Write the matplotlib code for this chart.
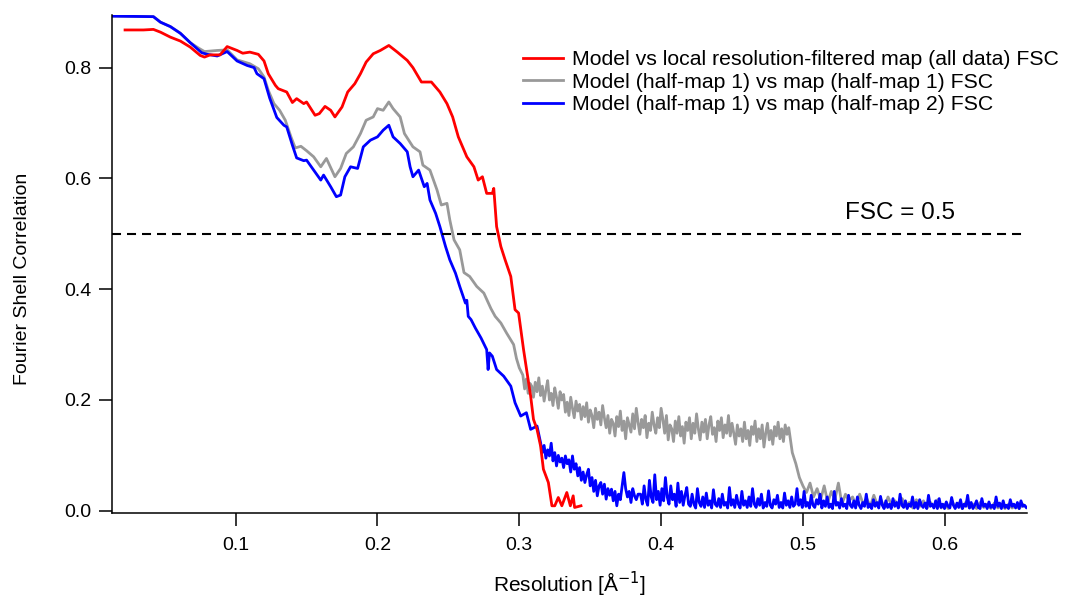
import numpy as np
import matplotlib
matplotlib.use("Agg")
import matplotlib.pyplot as plt

# Model-map FSC curves
red_x = [0.022, 0.035, 0.042, 0.047, 0.054, 0.061, 0.068, 0.075, 0.078, 0.082,
         0.089, 0.094, 0.101, 0.105, 0.110, 0.116, 0.120, 0.123, 0.128, 0.130,
         0.136, 0.140, 0.143, 0.148, 0.150, 0.156, 0.159, 0.163, 0.167, 0.170,
         0.175, 0.179, 0.184, 0.188, 0.192, 0.197, 0.202, 0.208, 0.214, 0.221,
         0.225, 0.231, 0.238, 0.244, 0.249, 0.253, 0.257, 0.263, 0.268, 0.271,
         0.274, 0.277, 0.281, 0.282, 0.284, 0.287, 0.290, 0.294, 0.297, 0.2995,
         0.303, 0.3055, 0.308, 0.310, 0.3125, 0.315, 0.317, 0.3205, 0.323, 0.325,
         0.3275, 0.330, 0.3335, 0.336, 0.338, 0.339, 0.3435]
red_y = [0.868, 0.868, 0.869, 0.864, 0.855, 0.848, 0.837, 0.822, 0.819, 0.823,
         0.823, 0.838, 0.831, 0.826, 0.828, 0.824, 0.812, 0.789, 0.768, 0.762,
         0.756, 0.737, 0.744, 0.735, 0.738, 0.714, 0.717, 0.730, 0.723, 0.711,
         0.729, 0.756, 0.771, 0.789, 0.810, 0.825, 0.831, 0.840, 0.828, 0.813,
         0.800, 0.774, 0.774, 0.756, 0.735, 0.711, 0.675, 0.639, 0.621, 0.597,
         0.603, 0.573, 0.573, 0.582, 0.513, 0.477, 0.453, 0.423, 0.363, 0.357,
         0.291, 0.249, 0.207, 0.165, 0.147, 0.117, 0.075, 0.051, 0.009, 0.009,
         0.024, 0.009, 0.033, 0.009, 0.027, 0.006, 0.009]

gray_x = [0.013, 0.042, 0.047, 0.054, 0.061, 0.068, 0.074, 0.078, 0.087, 0.094,
          0.101, 0.110, 0.116, 0.120, 0.123, 0.127, 0.131, 0.135, 0.139, 0.142,
          0.146, 0.150, 0.155, 0.160, 0.164, 0.170, 0.174, 0.178, 0.183, 0.188,
          0.192, 0.197, 0.200, 0.204, 0.208, 0.211, 0.214, 0.216, 0.219, 0.225,
          0.230, 0.232, 0.237, 0.242, 0.245, 0.249, 0.251, 0.254, 0.258, 0.261,
          0.265, 0.270, 0.275, 0.280, 0.283, 0.287, 0.291, 0.296, 0.298, 0.300]
gray_y = [0.893, 0.892, 0.882, 0.874, 0.862, 0.845, 0.835, 0.829, 0.831, 0.832,
          0.814, 0.807, 0.798, 0.783, 0.759, 0.735, 0.723, 0.705, 0.675, 0.655,
          0.658, 0.650, 0.639, 0.621, 0.636, 0.603, 0.618, 0.645, 0.657, 0.681,
          0.705, 0.711, 0.726, 0.723, 0.738, 0.726, 0.717, 0.711, 0.681, 0.657,
          0.648, 0.624, 0.615, 0.579, 0.552, 0.555, 0.525, 0.489, 0.471, 0.430,
          0.423, 0.405, 0.393, 0.365, 0.351, 0.339, 0.321, 0.300, 0.275, 0.258]
# noisy plateau, one value every 0.00125 from 0.3025 to 0.49
gray_band = [0.245, 0.22, 0.238, 0.212, 0.23, 0.225, 0.205, 0.232, 0.215, 0.24, 0.208,
             0.225, 0.198, 0.218, 0.235, 0.2, 0.212, 0.19, 0.222, 0.205, 0.185, 0.215, 0.2,
             0.21, 0.178, 0.196, 0.172, 0.205, 0.185, 0.168, 0.198, 0.18, 0.192, 0.165, 0.188,
             0.17, 0.195, 0.16, 0.182, 0.172, 0.15, 0.185, 0.165, 0.178, 0.155, 0.19, 0.168,
             0.15, 0.172, 0.14, 0.165, 0.158, 0.135, 0.17, 0.152, 0.18, 0.145, 0.162, 0.13,
             0.168, 0.155, 0.142, 0.175, 0.148, 0.185, 0.16, 0.138, 0.165, 0.15, 0.172, 0.132,
             0.158, 0.145, 0.178, 0.155, 0.14, 0.168, 0.15, 0.185,
             0.165, 0.14, 0.172, 0.128, 0.155, 0.148, 0.125, 0.162, 0.14, 0.17,
             0.135, 0.152, 0.122, 0.16, 0.145, 0.168, 0.13, 0.158, 0.14, 0.175,
             0.148, 0.128, 0.16, 0.142, 0.165, 0.13, 0.155, 0.17, 0.138, 0.15,
             0.125, 0.162, 0.145, 0.168, 0.132, 0.155, 0.14, 0.172, 0.135, 0.158,
             0.14, 0.12, 0.155, 0.135, 0.148, 0.125, 0.16, 0.13, 0.145, 0.118,
             0.152, 0.138, 0.162, 0.125, 0.148, 0.13, 0.155, 0.115, 0.14, 0.158,
             0.128, 0.145, 0.12, 0.152, 0.135, 0.16, 0.13, 0.148, 0.125, 0.155,
             0.138, 0.15]
# drop and tail, 0.4925 to 0.6575
gray_tail = [0.105, 0.085, 0.06, 0.045, 0.033,
             0.05, 0.025, 0.04, 0.02, 0.045, 0.015, 0.035, 0.02, 0.05, 0.012,
             0.03, 0.018, 0.025, 0.01, 0.03, 0.012, 0.022, 0.008, 0.028, 0.01,
             0.02, 0.006, 0.025, 0.01, 0.018, 0.006, 0.022, 0.008, 0.015, 0.005,
             0.02, 0.008, 0.018, 0.005, 0.015, 0.006, 0.02, 0.005, 0.012, 0.004,
             0.018, 0.006, 0.014, 0.004, 0.016, 0.005, 0.012, 0.004, 0.015, 0.006,
             0.012, 0.004, 0.014, 0.005, 0.01, 0.004, 0.012, 0.005, 0.01, 0.004,
             0.012, 0.006]

blue_x = [0.013, 0.042, 0.047, 0.054, 0.061, 0.068, 0.076, 0.080, 0.087, 0.094,
          0.101, 0.108, 0.113, 0.115, 0.120, 0.124, 0.129, 0.134, 0.136, 0.140,
          0.143, 0.148, 0.150, 0.155, 0.160, 0.162, 0.167, 0.171, 0.174, 0.177,
          0.181, 0.186, 0.190, 0.195, 0.200, 0.204, 0.208, 0.211, 0.216, 0.221,
          0.223, 0.225, 0.229, 0.233, 0.235, 0.237, 0.241, 0.244, 0.248, 0.251,
          0.255, 0.258, 0.262, 0.263, 0.264, 0.266, 0.269, 0.273, 0.277, 0.278,
          0.279, 0.281, 0.284, 0.289, 0.294, 0.297, 0.301, 0.305, 0.308, 0.3125]
blue_y = [0.893, 0.892, 0.882, 0.874, 0.862, 0.845, 0.827, 0.824, 0.821, 0.829,
          0.812, 0.804, 0.800, 0.789, 0.780, 0.745, 0.710, 0.696, 0.693, 0.660,
          0.637, 0.632, 0.633, 0.615, 0.597, 0.606, 0.585, 0.567, 0.570, 0.603,
          0.621, 0.618, 0.657, 0.669, 0.675, 0.687, 0.696, 0.675, 0.663, 0.648,
          0.621, 0.603, 0.615, 0.585, 0.591, 0.561, 0.537, 0.513, 0.477, 0.453,
          0.429, 0.405, 0.375, 0.380, 0.351, 0.345, 0.330, 0.312, 0.291, 0.255,
          0.285, 0.279, 0.255, 0.243, 0.225, 0.195, 0.171, 0.177, 0.147, 0.153]
# noisy foot, one value every 0.00125 from 0.315 to 0.38375
blue_mid = [0.123, 0.105, 0.118, 0.095, 0.11, 0.099, 0.122, 0.09, 0.105, 0.081,
            0.1, 0.088, 0.095, 0.078, 0.099, 0.085, 0.092, 0.07, 0.099, 0.075,
            0.085, 0.063, 0.078, 0.055, 0.07, 0.051, 0.065, 0.075, 0.045, 0.06,
            0.035, 0.055, 0.027, 0.045, 0.051, 0.03, 0.048, 0.021, 0.04, 0.028,
            0.039, 0.018, 0.035, 0.009, 0.03, 0.02, 0.045, 0.069, 0.04, 0.025,
            0.035, 0.015, 0.04, 0.027, 0.02, 0.03]
# noisy tail, one value every 0.00125 from 0.3855 to 0.6575
blue_tail = [0.03, 0.012, 0.045, 0.02, 0.01, 0.055, 0.025, 0.015, 0.065, 0.02,
             0.035, 0.01, 0.04, 0.018, 0.06, 0.025, 0.012, 0.045, 0.02, 0.03,
             0.008, 0.05, 0.015, 0.035, 0.01, 0.028, 0.042, 0.012,
             0.008, 0.03, 0.012, 0.005, 0.04, 0.015, 0.008, 0.025, 0.006, 0.032,
             0.01, 0.018, 0.005, 0.038, 0.012, 0.008, 0.022, 0.006, 0.03, 0.01,
             0.015, 0.005, 0.042, 0.01, 0.02, 0.006, 0.028, 0.012, 0.005, 0.035,
             0.01, 0.018, 0.006, 0.025, 0.008, 0.04, 0.012, 0.006, 0.022, 0.01,
             0.03, 0.005, 0.015, 0.008, 0.036, 0.01, 0.005, 0.02, 0.012, 0.028,
             0.006, 0.015, 0.005, 0.032, 0.01, 0.018, 0.006, 0.025, 0.008, 0.012,
             0.04, 0.01, 0.02, 0.006,
             0.035, 0.008, 0.015, 0.005, 0.028, 0.01, 0.006, 0.02, 0.012, 0.03,
             0.005, 0.018, 0.008, 0.025, 0.006, 0.012, 0.004, 0.035, 0.01, 0.015,
             0.005, 0.022, 0.008, 0.012, 0.004, 0.028, 0.01, 0.006, 0.018, 0.005,
             0.025, 0.01, 0.004, 0.015, 0.008, 0.03, 0.006, 0.012, 0.004, 0.02,
             0.008, 0.015, 0.005, 0.026, 0.01, 0.004, 0.018, 0.006, 0.012, 0.004,
             0.022, 0.008, 0.015, 0.005, 0.03, 0.01, 0.006, 0.018, 0.004, 0.012,
             0.008, 0.025, 0.005, 0.015, 0.004, 0.02, 0.01, 0.006, 0.014, 0.004,
             0.028, 0.008, 0.012, 0.005, 0.018, 0.004, 0.022, 0.006, 0.012, 0.004,
             0.016, 0.008, 0.005, 0.024, 0.01, 0.004, 0.014, 0.006, 0.02, 0.004,
             0.012, 0.008, 0.028, 0.005, 0.015, 0.004, 0.01, 0.018, 0.006, 0.004,
             0.022, 0.008, 0.012, 0.004, 0.016, 0.006, 0.01, 0.004, 0.025, 0.008,
             0.014, 0.004, 0.018, 0.006, 0.01, 0.004, 0.02, 0.008, 0.012, 0.005,
             0.015, 0.004, 0.018, 0.008, 0.01, 0.006]

labels = ['Model vs local resolution-filtered map (all data) FSC',
          'Model (half-map 1) vs map (half-map 1) FSC',
          'Model (half-map 1) vs map (half-map 2) FSC']

plt.rcParams['font.family'] = ['Liberation Sans', 'DejaVu Sans']
plt.rcParams['font.size'] = 14
plt.rcParams['lines.scale_dashes'] = False

gx = np.concatenate([gray_x, np.linspace(0.3025, 0.49, len(gray_band)),
                     np.linspace(0.4925, 0.6575, len(gray_tail))])
gy = np.concatenate([gray_y, gray_band, gray_tail])
bx = np.concatenate([blue_x, np.linspace(0.315, 0.38375, len(blue_mid)),
                     np.linspace(0.3855, 0.6575, len(blue_tail))])
by = np.concatenate([blue_y, blue_mid, blue_tail])

fig = plt.figure(figsize=(10.65, 6), dpi=100)
ax = fig.add_axes([112 / 1065, 1 - 513 / 600, 915 / 1065, 498 / 600])

l_gray, = ax.plot(gx, gy, color='#999999', lw=2.0, label=labels[1])
l_blue, = ax.plot(bx, by, color='#0000ff', lw=2.0, label=labels[2])
l_red, = ax.plot(red_x, red_y, color='#ff0000', lw=2.0, label=labels[0])

ax.axhline(0.5, color='black', lw=1.5, dashes=(6.5, 4.3))
ax.text(0.530, 0.537, 'FSC = 0.5', ha='left', va='center', fontsize=17.5)

ax.set_xlim(0.0128, 0.658)
ax.set_ylim(-0.004, 0.895)
ax.set_xticks([0.1, 0.2, 0.3, 0.4, 0.5, 0.6])
ax.set_yticks([0.0, 0.2, 0.4, 0.6, 0.8])
ax.set_yticklabels(['0.0', '0.2', '0.4', '0.6', '0.8'])
ax.tick_params(direction='out', length=9.5, width=1.1, labelsize=14, pad=5)
ax.tick_params(axis='x', pad=8)

for s in ['top', 'right']:
    ax.spines[s].set_visible(False)
for s in ['left', 'bottom']:
    ax.spines[s].set_linewidth(1.1)

ax.set_xlabel('Resolution [Å$^{-1}$]', fontsize=15)
ax.set_ylabel('Fourier Shell Correlation', fontsize=14)
ax.xaxis.set_label_coords(0.5, -0.114)
ax.yaxis.set_label_coords(-0.088, 0.47)

ax.legend([l_red, l_gray, l_blue], labels, loc='upper left', frameon=False,
          bbox_to_anchor=(523 / 1065, 1 - 50 / 600), bbox_transform=fig.transFigure,
          borderpad=0, borderaxespad=0, handlelength=1.9, handletextpad=0.42,
          labelspacing=0.17, fontsize=15.3)

fig.savefig('out.png', dpi=100)
